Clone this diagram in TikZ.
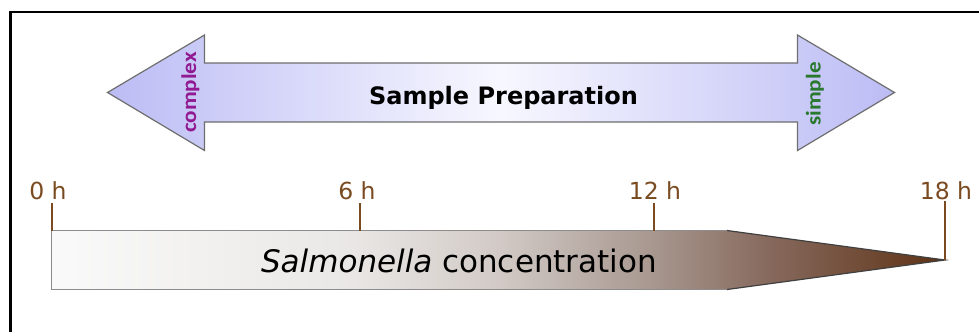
\documentclass[tikz,border=0pt]{standalone}
\usepackage{fontspec}
\usetikzlibrary{positioning}
\newfontfamily\comicfont{DejaVu Sans}
\newfontfamily\calfont{Carlito}

\definecolor{lavender}{RGB}{188,188,245}
\definecolor{arrowline}{RGB}{110,110,110}
\definecolor{barline}{RGB}{140,140,140}
\definecolor{hourbrown}{RGB}{122,74,32}
\definecolor{complexpurple}{RGB}{145,25,145}
\definecolor{simplegreen}{RGB}{40,120,45}

\pgfdeclarehorizontalshading{concshade}{100bp}{color(0bp)=(white!98!black); color(25bp)=(white!98!black); color(41.5bp)=(rgb,255:red,234;green,232;blue,230); color(50bp)=(rgb,255:red,210;green,202;blue,198); color(58.5bp)=(rgb,255:red,168;green,152;blue,144); color(65bp)=(rgb,255:red,135;green,106;blue,94); color(75bp)=(rgb,255:red,94;green,50;blue,21); color(100bp)=(rgb,255:red,94;green,50;blue,21)}

\begin{document}
\begin{tikzpicture}[x=1pt,y=1pt,yscale=-1,xscale=1,
  hourlabel/.style={anchor=base,inner sep=0.75pt,text=hourbrown,font=\comicfont\fontsize{23.5}{27}\selectfont},
  hourtick/.style={draw=hourbrown,line width=2},
  sidelabel/.style={rotate=90,inner sep=0.75pt,font=\calfont\bfseries\fontsize{21}{24}\selectfont}]
\useasboundingbox (0,0) rectangle (979,332);

%Shape: Frame
\draw [line width=2.5] (10.5,332) -- (10.5,12) -- (979,12) ;

%Shape: Double Arrow
\shade [left color=lavender,right color=lavender,middle color=white!97!blue] (107.5,92.5) -- (204.5,35) -- (204.5,63) -- (797.5,63) -- (797.5,35) -- (894.5,92.5) -- (797.5,150.5) -- (797.5,122) -- (204.5,122) -- (204.5,150.5) -- cycle ;
\draw [color=arrowline,line width=1.2] (107.5,92.5) -- (204.5,35) -- (204.5,63) -- (797.5,63) -- (797.5,35) -- (894.5,92.5) -- (797.5,150.5) -- (797.5,122) -- (204.5,122) -- (204.5,150.5) -- cycle ;

%Shape: Concentration Bar
\shade [shading=concshade] (51.5,230.5) -- (727,230.5) -- (945,260) -- (727,289.5) -- (51.5,289.5) -- cycle ;
\draw [color=barline,line width=1.2] (727,230.5) -- (51.5,230.5) -- (51.5,289.5) -- (727,289.5) ;
\draw [color=black!75,line width=1.2] (727,230.5) -- (945,260) -- (727,289.5) ;

% Text Node
\node (prep) at (503.5,104) [anchor=base,inner sep=0.75pt,font=\comicfont\bfseries\fontsize{24}{28}\selectfont] {Sample Preparation};
% Text Node
\node (complex) at (190.5,92.5) [sidelabel,text=complexpurple] {\scalebox{1.1}[1]{complex}};
% Text Node
\node (simple) at (815,94) [sidelabel,text=simplegreen] {\scalebox{1.1}[1]{simple}};
% Text Node
\node (conc) at (459,272) [anchor=base,inner sep=0.75pt,font=\comicfont\fontsize{31}{36}\selectfont] {\textit{Salmonella} concentration};

% Text Node
\node (h0) at (48,199.5) [hourlabel] {0 h};
% Text Node
\node (h6) at (357,199.5) [hourlabel] {6 h};
% Text Node
\node (h12) at (655,199.5) [hourlabel] {12 h};
% Text Node
\node (h18) at (946,199.5) [hourlabel] {18 h};

%Shape: Ticks
\coordinate (t0top) at (51.5,203); \coordinate (t0) at (51.5,230.5);
\coordinate (t6top) at (359.5,203); \coordinate (t6) at (359.5,230.5);
\coordinate (t12top) at (654,203); \coordinate (t12) at (654,230.5);
\coordinate (t18top) at (945,201); \coordinate (t18) at (945,260);
\draw [hourtick] (t0top) -- (t0) ;
\draw [hourtick] (t6top) -- (t6) ;
\draw [hourtick] (t12top) -- (t12) ;
\draw [hourtick] (t18top) -- (t18) ;

\end{tikzpicture}
\end{document}
